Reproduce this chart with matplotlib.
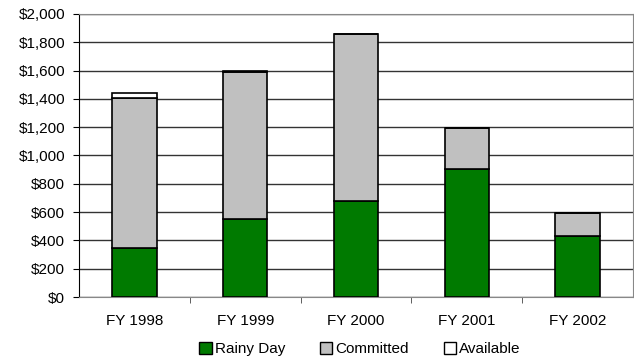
import matplotlib
matplotlib.use("Agg")
import matplotlib.pyplot as plt
from matplotlib.patches import Patch
from matplotlib.ticker import FuncFormatter, MultipleLocator, FixedLocator

plt.rcParams["font.family"] = ["Liberation Sans", "DejaVu Sans"]

years = ["FY 1998", "FY 1999", "FY 2000", "FY 2001", "FY 2002"]
rainy_day = [348, 553, 678, 905, 431]
committed = [1060, 1039, 1181, 291, 163]
available = [36, 5, 0, 0, 0]

fig = plt.figure(figsize=(6.34, 3.62), dpi=100)
ax = fig.add_axes([79 / 634, 65 / 362, 554 / 634, 283 / 362])

x = list(range(len(years)))
w = 0.4
bottoms2 = rainy_day
bottoms3 = [r + c for r, c in zip(rainy_day, committed)]

ax.bar(x, rainy_day, w, color="#007a00", edgecolor="black", linewidth=1.2, zorder=3)
ax.bar(x, committed, w, bottom=bottoms2, color="#c0c0c0", edgecolor="black",
       linewidth=1.2, zorder=3)
ax.bar(x, available, w, bottom=bottoms3, color="white", edgecolor="black",
       linewidth=1.2, zorder=3)

ax.set_xlim(-0.5, len(years) - 0.5)
ax.set_ylim(0, 2000)
ax.yaxis.set_major_locator(MultipleLocator(200))
ax.yaxis.set_major_formatter(FuncFormatter(lambda v, p: f"${int(v):,}"))
ax.grid(axis="y", color="#333333", linewidth=1.0, zorder=0)

ax.set_xticks(x)
ax.set_xticklabels(years)
ax.tick_params(axis="x", length=0, pad=12, labelsize=11)
ax.xaxis.set_minor_locator(FixedLocator([i + 0.5 for i in range(len(years) - 1)]))
ax.tick_params(axis="x", which="minor", length=4, color="#444444", direction="out")
ax.tick_params(axis="y", length=4, direction="out", labelsize=11, pad=6)

for side in ["top", "right"]:
    ax.spines[side].set_color("#888888")
ax.spines["left"].set_color("black")
ax.spines["bottom"].set_color("#888888")

handles = [
    Patch(facecolor="#007a00", edgecolor="black", label="Rainy Day"),
    Patch(facecolor="#c0c0c0", edgecolor="black", label="Committed"),
    Patch(facecolor="white", edgecolor="black", label="Available"),
]
fig.legend(handles=handles, loc="center", bbox_to_anchor=(0.568, 0.035),
           ncol=3, frameon=False, fontsize=11, handlelength=0.8, handleheight=0.8,
           handletextpad=0.2, columnspacing=2.3)

fig.savefig("out.png", dpi=100)
